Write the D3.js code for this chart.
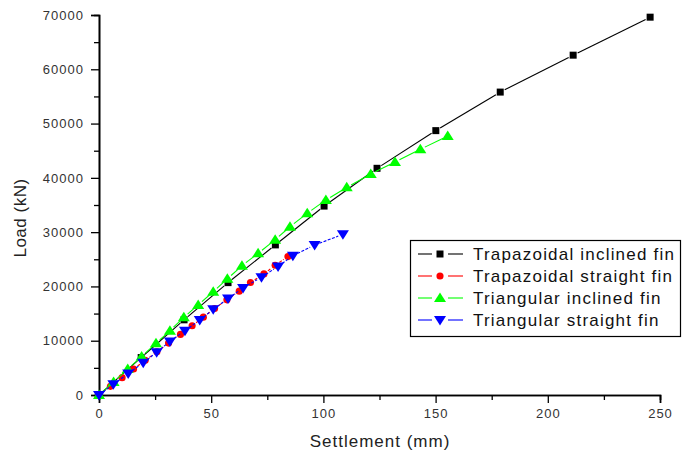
<!DOCTYPE html>
<html>
<head>
<meta charset="utf-8">
<script src="https://cdn.jsdelivr.net/npm/d3@7"></script>
<style>
  body { margin: 0; background: #fff; }
  svg { display: block; }
  text { font-family: "Liberation Sans", Arial, sans-serif; }
</style>
</head>
<body>
<svg id="chart" width="684" height="459"></svg>
<script>
// settlement (mm) / load (kN)
const trapInclinedX = [0, 18.8, 37.9, 57.5, 78.6, 100.3, 123.9, 150.1, 178.8, 211.3, 245.6];
const trapInclinedY = [0, 6900, 13850, 20700, 27650, 34800, 41760, 48700, 55800, 62600, 69600];

const trapStraightX = [0, 5.1, 10.3, 15.4, 20.6, 25.8, 31.0, 36.3, 41.5, 46.5, 51.5, 57.0, 62.5, 67.5, 73.5, 78.5, 84.2];
const trapStraightY = [0, 1590, 3190, 4780, 6380, 7970, 9560, 11160, 12750, 14340, 15940, 17530, 19130, 20720, 22310, 23910, 25500];

const triInclinedX = [0, 6.5, 12.8, 19.0, 25.4, 31.6, 37.8, 44.2, 50.9, 57.2, 63.7, 70.9, 78.5, 85.1, 92.8, 101.1, 110.4, 121.1, 131.9, 143.2, 155.4];
const triInclinedY = [0, 2400, 4790, 7100, 9520, 11850, 14310, 16600, 19030, 21400, 23820, 26100, 28600, 31000, 33470, 35920, 38250, 40700, 42920, 45260, 47700];

const triStraightX = [0, 6.4, 13.0, 19.7, 25.7, 31.6, 38.3, 44.9, 50.9, 57.5, 64.2, 72.4, 79.8, 86.4, 96.1, 108.7];
const triStraightY = [0, 1970, 3950, 5920, 7890, 9870, 11840, 13810, 15780, 17760, 19730, 21700, 23680, 25650, 27620, 29600];

const seriesNames = ['Trapazoidal inclined fin', 'Trapazoidal straight fin', 'Triangular inclined fin', 'Triangular straight fin'];
const seriesColors = ['#000000', '#ff0000', '#00ff00', '#0000ff'];
const seriesSymbols = ['square', 'circle', 'up', 'down'];

const xTicks = [0, 50, 100, 150, 200, 250];
const yTicks = [0, 10000, 20000, 30000, 40000, 50000, 60000, 70000];

const series = [
  [trapInclinedX, trapInclinedY],
  [trapStraightX, trapStraightY],
  [triInclinedX, triInclinedY],
  [triStraightX, triStraightY]
].map((s, i) => ({
  name: seriesNames[i], color: seriesColors[i], symbol: seriesSymbols[i],
  pts: s[0].map((x, j) => ({ x: x, y: s[1][j] }))
}));

const svg = d3.select('#chart');
const x = d3.scaleLinear().domain([0, 250]).range([99, 660]);
const y = d3.scaleLinear().domain([0, 70000]).range([395, 15]);

// axes
const xAxis = d3.axisBottom(x).tickValues(xTicks).tickSize(8).tickPadding(6).tickFormat(d3.format('d'));
const yAxis = d3.axisLeft(y).tickValues(yTicks).tickSize(8).tickPadding(7).tickFormat(d3.format('d'));
const xMinor = d3.axisBottom(x).tickValues(d3.range(25, 250, 50)).tickSize(5).tickFormat('');
const yMinor = d3.axisLeft(y).tickValues(d3.range(5000, 70000, 10000)).tickSize(5).tickFormat('');

function styleAxis(g) {
  g.select('.domain').attr('stroke', '#000').attr('stroke-width', 1.6);
  g.selectAll('.tick line').attr('stroke', '#000').attr('stroke-width', 1.3);
  g.selectAll('.tick text')
    .attr('fill', '#333')
    .style('font-size', '13px')
    .style('letter-spacing', '1px')
    .style('font-family', '"Liberation Sans", Arial, sans-serif');
}

svg.append('g').attr('transform', 'translate(0,395)').call(xMinor).call(styleAxis);
svg.append('g').attr('transform', 'translate(99,0)').call(yMinor).call(styleAxis);
svg.append('g').attr('transform', 'translate(0,395)').call(xAxis).call(styleAxis);
svg.append('g').attr('transform', 'translate(99,0)').call(yAxis).call(styleAxis);

svg.append('text')
  .attr('x', 380).attr('y', 447)
  .attr('text-anchor', 'middle')
  .attr('fill', '#222')
  .style('font-size', '17px').style('letter-spacing', '1px')
  .text('Settlement (mm)');

svg.append('text')
  .attr('transform', 'translate(26,218) rotate(-90)')
  .attr('text-anchor', 'middle')
  .attr('fill', '#222')
  .style('font-size', '17px').style('letter-spacing', '0.5px')
  .text('Load (kN)');

function symbolPath(kind) {
  if (kind === 'square') return 'M-3.5,-3.5H3.5V3.5H-3.5Z';
  if (kind === 'circle') return d3.symbol(d3.symbolCircle, 40)();
  if (kind === 'up') return 'M0,-5.5L6,4L-6,4Z';
  return 'M0,5.5L6,-4L-6,-4Z';
}

// line segments with a small gap at each symbol
const gap = 5;
function segments(pts) {
  const out = [];
  for (let i = 1; i < pts.length; i++) {
    const x1 = x(pts[i - 1].x), y1 = y(pts[i - 1].y);
    const x2 = x(pts[i].x), y2 = y(pts[i].y);
    const len = Math.hypot(x2 - x1, y2 - y1);
    if (len <= 2 * gap) continue;
    const ux = (x2 - x1) / len, uy = (y2 - y1) / len;
    out.push([x1 + ux * gap, y1 + uy * gap, x2 - ux * gap, y2 - uy * gap]);
  }
  return out;
}

const plot = svg.append('g');
series.forEach(s => {
  const g = plot.append('g');
  g.selectAll('line').data(segments(s.pts)).join('line')
    .attr('x1', d => d[0]).attr('y1', d => d[1])
    .attr('x2', d => d[2]).attr('y2', d => d[3])
    .attr('stroke', s.color).attr('stroke-width', 1.1)
    .attr('stroke-dasharray', s.symbol === 'down' || s.symbol === 'circle' ? '3,1.5' : null);
  g.selectAll('path').data(s.pts).join('path')
    .attr('transform', d => 'translate(' + x(d.x) + ',' + y(d.y) + ')')
    .attr('d', symbolPath(s.symbol))
    .attr('fill', s.color);
});

// legend
const legend = svg.append('g');
legend.append('rect')
  .attr('x', 410.5).attr('y', 240.5).attr('width', 270).attr('height', 96)
  .attr('fill', '#fff').attr('stroke', '#000').attr('stroke-width', 1.2);

const rowY = [254, 276, 298, 320];
series.forEach((s, i) => {
  const row = legend.append('g').attr('transform', 'translate(0,' + rowY[i] + ')');
  row.append('line').attr('x1', 418).attr('x2', 432).attr('y1', 0).attr('y2', 0)
    .attr('stroke', s.color).attr('stroke-width', 1.1);
  row.append('line').attr('x1', 448).attr('x2', 463).attr('y1', 0).attr('y2', 0)
    .attr('stroke', s.color).attr('stroke-width', 1.1);
  row.append('path').attr('transform', 'translate(440,0)')
    .attr('d', symbolPath(s.symbol)).attr('fill', s.color);
  row.append('text').attr('x', 473).attr('y', 6)
    .attr('fill', '#111')
    .style('font-size', '17px').style('letter-spacing', '1.2px')
    .text(s.name);
});
</script>
</body>
</html>
